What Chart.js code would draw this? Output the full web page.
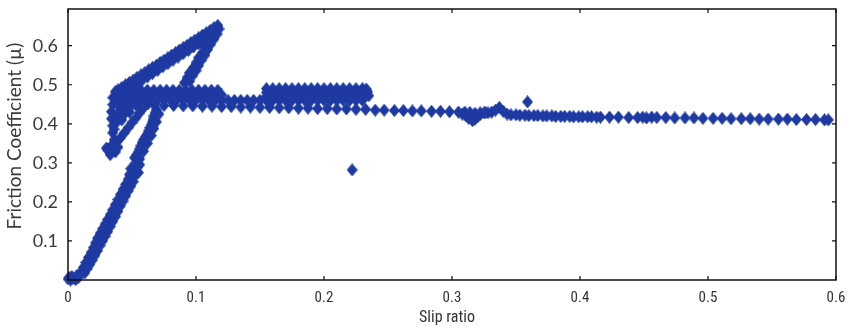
<!DOCTYPE html>
<html>
<head>
<meta charset="utf-8">
<script src="https://cdn.jsdelivr.net/npm/chart.js@4.4.1/dist/chart.umd.min.js"></script>
<style>
html,body{margin:0;padding:0;background:#fff;}
canvas{display:block;}
</style>
</head>
<body>
<canvas id="c" width="849" height="329"></canvas>
<script>
// ---- tick labels / titles ----
const xTitle = 'Slip ratio';
const yTitle = 'Friction Coefficient (\u00b5)';
const xTickValues = [0, 0.1, 0.2, 0.3, 0.4, 0.5, 0.6];
const yTickValues = [0.1, 0.2, 0.3, 0.4, 0.5, 0.6];

// ---- data (slip ratio, friction coefficient) ----
const originX = [0, 0.002, 0.004, 0.006, 0.008, 0.003, 0.007, 0.001];
const originY = [0.003, 0.000, 0.004, 0.001, 0.006, 0.009, 0.012, 0.006];

const riseX = [0.010,0.012,0.014,0.016,0.018,0.020,0.0215,0.023,0.025,0.027,0.029,0.031,0.033,0.035,0.037,0.039,0.041,0.043,0.045,0.047,
               0.013,0.015,0.017,0.019,0.021,0.023,0.025,0.027,0.029,0.031,0.033,0.035,0.037,0.039,0.041,0.043,0.045,0.047,0.049,0.051];
const riseY = [0.020,0.032,0.045,0.058,0.070,0.083,0.095,0.107,0.119,0.131,0.143,0.155,0.167,0.180,0.193,0.206,0.219,0.232,0.245,0.258,
               0.018,0.029,0.040,0.051,0.063,0.075,0.088,0.100,0.112,0.124,0.137,0.150,0.162,0.176,0.190,0.202,0.215,0.228,0.240,0.252];

const blobX = [0.048,0.051,0.054,0.051,0.055,0.053,0.049,0.056];
const blobY = [0.270,0.280,0.290,0.262,0.275,0.300,0.285,0.295];

const climbX = [0.052,0.055,0.057,0.059,0.062,0.064,0.066,0.067,0.069,
                0.0535,0.056,0.058,0.0605,0.063,0.065,0.0665,0.068,
                0.056,0.059,0.062,0.065,0.067,0.069,0.071];
const climbY = [0.313,0.328,0.344,0.359,0.374,0.390,0.405,0.420,0.436,
                0.320,0.336,0.352,0.367,0.382,0.397,0.412,0.428,
                0.310,0.330,0.350,0.370,0.388,0.405,0.425];

const loopX = [0.031,0.034,0.0375,0.041,0.044,0.047,0.050,0.053,0.056,0.059,0.0625,
               0.033,0.037,0.034,0.039,0.030,
               0.036,0.035,0.035,0.034,0.034,0.035,0.035,0.037,0.040,0.041,0.042,0.039,
               0.036,0.038,0.039,0.040,0.038,
               0.045,0.050,0.055,0.048,0.044,0.060];
const loopY = [0.333,0.344,0.354,0.364,0.377,0.390,0.403,0.415,0.428,0.441,0.451,
               0.321,0.328,0.336,0.340,0.338,
               0.359,0.377,0.395,0.413,0.431,0.449,0.467,0.482,0.462,0.436,0.410,0.475,
               0.386,0.404,0.422,0.445,0.456,
               0.440,0.450,0.445,0.430,0.425,0.455];

const peakX = [0.039,0.042,0.045,0.048,0.051,0.054,0.057,0.060,0.063,0.066,0.069,0.072,0.075,0.078,0.081,0.084,0.087,0.090,0.093,0.096,0.099,0.102,0.105,0.108,0.111,0.114,0.117,
               0.046,0.050,0.054,0.058,0.062,0.066,0.070,0.074,0.078,0.082,0.086,0.090,0.094,0.098,0.102,0.106,0.110,0.114,
               0.116,0.114,0.112,0.109,0.107,0.105,0.102,0.100,0.098,0.095,0.093,0.091,
               0.118,0.1165,0.114,0.1115,0.109,0.107,0.104,0.102,0.100,0.097,0.095];
const peakY = [0.487,0.493,0.500,0.506,0.512,0.519,0.525,0.531,0.538,0.544,0.550,0.557,0.563,0.569,0.576,0.582,0.589,0.595,0.601,0.608,0.614,0.620,0.627,0.633,0.639,0.646,0.652,
               0.487,0.495,0.504,0.512,0.520,0.529,0.537,0.546,0.554,0.563,0.571,0.580,0.588,0.597,0.605,0.614,0.622,0.630,
               0.642,0.631,0.620,0.607,0.595,0.582,0.569,0.556,0.544,0.531,0.518,0.505,
               0.643,0.630,0.617,0.604,0.590,0.576,0.562,0.549,0.536,0.522,0.509];

const rowAX = [0.042,0.047,0.052,0.057,0.062,0.067,0.072,0.077,0.082,0.087,0.092,0.097,0.102,0.107,0.112,0.117];
const rowAY = [0.486,0.486,0.486,0.486,0.486,0.486,0.486,0.486,0.486,0.486,0.486,0.486,0.486,0.486,0.486,0.486];
const rowBX = [0.040,0.045,0.050,0.055,0.060,0.065,0.070,0.075,0.080,0.085,0.090,0.095,0.100,0.105,0.110,0.115,0.120];
const rowBY = [0.474,0.474,0.474,0.474,0.474,0.474,0.474,0.474,0.474,0.474,0.474,0.474,0.474,0.474,0.474,0.474,0.474];
const rowCX = [0.045,0.050,0.055,0.060,0.065,0.070,0.075,0.080,0.085,0.090,0.095,0.100,0.105,0.110,0.115,0.120,0.125,0.130,0.135,0.140,0.145,0.150];
const rowCY = [0.462,0.462,0.462,0.462,0.461,0.461,0.461,0.461,0.461,0.461,0.461,0.461,0.461,0.460,0.460,0.460,0.460,0.460,0.460,0.460,0.460,0.460];
const rowDX = [0.045,0.0525,0.060,0.0675,0.075,0.0825,0.090,0.0975,0.105,0.1125,0.120,0.1275,0.135,0.1425,0.150,0.1575,0.165,0.1725,0.180,0.1875,0.195,0.2025,0.210,0.2175,0.225,0.2325];
const rowDY = [0.449,0.449,0.448,0.448,0.447,0.447,0.446,0.446,0.445,0.445,0.444,0.444,0.443,0.443,0.442,0.442,0.441,0.441,0.440,0.440,0.439,0.439,0.438,0.438,0.437,0.437];

const blockX  = [0.155,0.160,0.165,0.170,0.175,0.180,0.185,0.190,0.195,0.200,0.205,0.210,0.215,0.220,0.225,0.230];
const block1Y = [0.490,0.490,0.490,0.490,0.490,0.490,0.490,0.490,0.490,0.490,0.490,0.490,0.490,0.490,0.490,0.490];
const block2Y = [0.480,0.480,0.480,0.480,0.480,0.480,0.480,0.480,0.480,0.480,0.480,0.480,0.480,0.480,0.480,0.480];
const block3Y = [0.470,0.470,0.470,0.470,0.470,0.470,0.470,0.470,0.470,0.470,0.470,0.470,0.470,0.470,0.470,0.470];
const block4Y = [0.460,0.460,0.460,0.460,0.460,0.460,0.460,0.460,0.460,0.460,0.460,0.460,0.460,0.460,0.460,0.460];
const capX = [0.234,0.235,0.233];
const capY = [0.482,0.472,0.489];

const tailX = [0.240,0.247,0.255,0.262,0.269,0.276,0.284,0.291,0.298,0.305,
               0.308,0.311,0.313,0.316,0.318,0.320,0.322,0.325,0.328,0.331,0.334,0.337,0.340,0.343,
               0.310,0.314,0.318,0.322,0.326,
               0.346,0.350,0.353,0.357,0.360,0.364,0.367,0.371,0.374,0.378,0.381,0.385,0.388,0.392,0.395,0.399,0.402,0.406,0.409,0.413,0.416,
               0.423,0.430,0.438,0.445,0.449,0.452,0.456,0.460,0.467,0.474,0.482,0.489,0.496,0.504,0.511,0.518,0.526,0.533,0.540,0.547,0.555,0.562,0.569,0.577,0.584,0.591,0.594];
const tailY = [0.435,0.435,0.434,0.434,0.433,0.433,0.432,0.432,0.431,0.430,
               0.425,0.420,0.414,0.408,0.412,0.418,0.424,0.428,0.428,0.430,0.435,0.442,0.432,0.425,
               0.430,0.429,0.427,0.428,0.429,
               0.423,0.423,0.422,0.422,0.421,0.421,0.421,0.420,0.420,0.420,0.419,0.419,0.419,0.419,0.418,0.418,0.418,0.418,0.418,0.417,0.417,
               0.417,0.417,0.416,0.416,0.417,0.415,0.417,0.416,0.416,0.415,0.415,0.415,0.414,0.414,0.414,0.413,0.413,0.413,0.412,0.412,0.412,0.412,0.411,0.411,0.411,0.410,0.410];

const outlierX = [0.222, 0.359];
const outlierY = [0.282, 0.456];

// ---- build the single scatter series ----
function pts(xs, ys) { return xs.map((x, i) => ({ x: x, y: ys[i] })); }
const data = [].concat(
  pts(originX, originY), pts(riseX, riseY), pts(blobX, blobY), pts(climbX, climbY),
  pts(loopX, loopY), pts(peakX, peakY),
  pts(rowAX, rowAY), pts(rowBX, rowBY), pts(rowCX, rowCY), pts(rowDX, rowDY),
  pts(blockX, block1Y), pts(blockX, block2Y), pts(blockX, block3Y), pts(blockX, block4Y), pts(capX, capY),
  pts(tailX, tailY), pts(outlierX, outlierY)
);

const BLUE = '#1e3aa2';
function makeMarker() {
  const c = document.createElement('canvas');
  c.width = 11; c.height = 13;
  const g = c.getContext('2d');
  g.fillStyle = BLUE;
  g.beginPath();
  g.moveTo(5.5, 0); g.lineTo(11, 6.5); g.lineTo(5.5, 13); g.lineTo(0, 6.5); g.closePath();
  g.fill();
  return c;
}

const frame = {
  id: 'frame',
  afterDraw(chart) {
    const { ctx, chartArea: { left, right, top, bottom }, scales: { x, y } } = chart;
    ctx.save();
    ctx.strokeStyle = '#111';
    ctx.lineWidth = 1.5;
    ctx.strokeRect(left, top, right - left, bottom - top);
    ctx.lineWidth = 1.2;
    ctx.beginPath();
    xTickValues.forEach(v => {
      const px = x.getPixelForValue(v);
      ctx.moveTo(px, bottom); ctx.lineTo(px, bottom - 4);
      ctx.moveTo(px, top); ctx.lineTo(px, top + 4);
    });
    yTickValues.forEach(v => {
      const py = y.getPixelForValue(v);
      ctx.moveTo(left, py); ctx.lineTo(left + 4, py);
      ctx.moveTo(right, py); ctx.lineTo(right - 4, py);
    });
    ctx.stroke();
    // axis titles
    ctx.fillStyle = '#333';
    ctx.textAlign = 'center';
    ctx.textBaseline = 'middle';
    ctx.font = '16px "Liberation Sans Narrow", "Roboto Condensed", "Arial Narrow", "Liberation Sans", sans-serif';
    ctx.fillText(xTitle, 447, 318);
    ctx.translate(15, 136);
    ctx.rotate(-Math.PI / 2);
    ctx.font = '19px Lato, "Open Sans", sans-serif';
    ctx.fillStyle = '#3a3a44';
    ctx.fillText(yTitle, 0, 0);
    ctx.restore();
  }
};

new Chart(document.getElementById('c'), {
  type: 'scatter',
  data: {
    datasets: [{
      data: data,
      pointStyle: makeMarker(),
      pointRadius: 6,
      backgroundColor: BLUE,
      borderColor: BLUE,
      clip: false
    }]
  },
  options: {
    responsive: false,
    animation: false,
    devicePixelRatio: 1,
    layout: { padding: { left: 0, right: 13, top: 9, bottom: 0 } },
    plugins: { legend: { display: false }, tooltip: { enabled: false } },
    scales: {
      x: {
        type: 'linear', min: 0, max: 0.6,
        afterFit: s => { s.height = 49; s.paddingLeft = 0; s.paddingRight = 0; },
        afterBuildTicks: s => { s.ticks = xTickValues.map(v => ({ value: v })); },
        grid: { display: false, drawTicks: false },
        border: { display: false },
        ticks: {
          padding: 9,
          color: '#333',
          font: { size: 15, family: '"Liberation Sans Narrow", "Roboto Condensed", "Arial Narrow", "Liberation Sans", sans-serif' },
          callback: v => String(v)
        }
      },
      y: {
        type: 'linear', min: 0, max: 0.694,
        afterFit: s => { s.width = 68; s.paddingTop = 0; s.paddingBottom = 0; },
        afterBuildTicks: s => { s.ticks = yTickValues.map(v => ({ value: v })); },
        grid: { display: false, drawTicks: false },
        border: { display: false },
        ticks: {
          padding: 10,
          color: '#3a3a44',
          font: { size: 18, family: 'Lato, "Open Sans", sans-serif' },
          callback: v => String(v)
        }
      }
    }
  },
  plugins: [frame]
});
</script>
</body>
</html>
